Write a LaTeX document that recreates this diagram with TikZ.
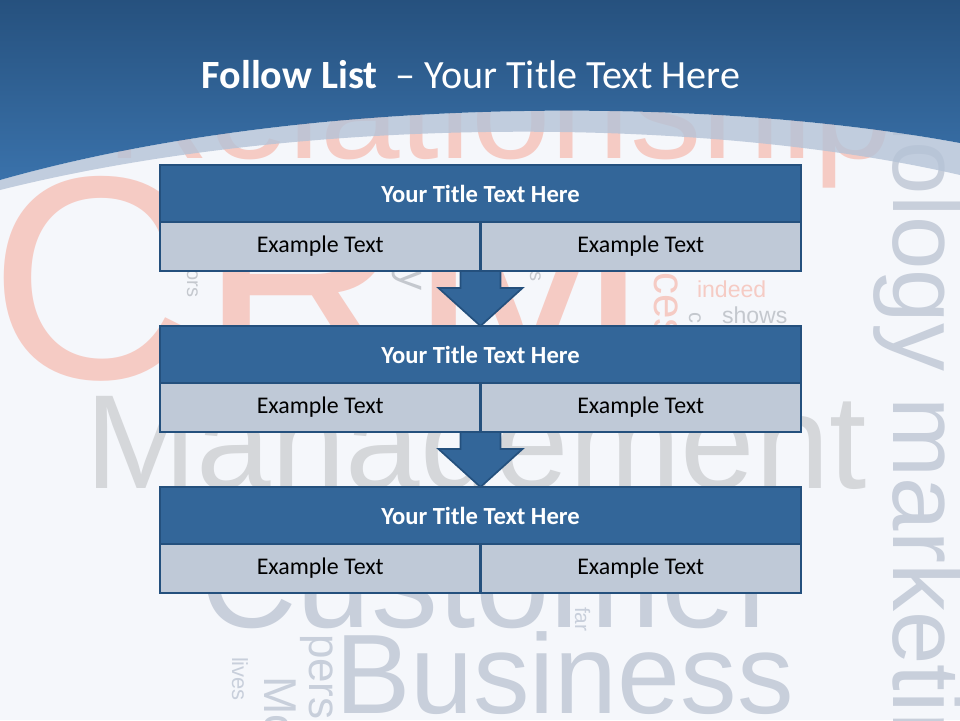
\documentclass[tikz,border=0pt]{standalone}
\usepackage{fontspec}
\setmainfont{Carlito}
\newfontfamily\cloudfont{Liberation Sans}
\usepackage{xcolor}
\usepackage{tikz}
\usetikzlibrary{positioning,calc}

\definecolor{hdrtop}{HTML}{26517E}
\definecolor{hdrbot}{HTML}{3A72AB}
\definecolor{bandc}{HTML}{B5C3D7}
\definecolor{paper}{HTML}{F5F7FB}
\definecolor{salmon}{HTML}{F5CBC4}
\definecolor{cloudgrey}{HTML}{D5D7DA}
\definecolor{smallgrey}{HTML}{C4C8CE}
\definecolor{cloudblue}{HTML}{C8CFDB}
\definecolor{titlefill}{HTML}{336699}
\definecolor{rowfill}{HTML}{BFC9D7}
\definecolor{edgec}{HTML}{24507D}

\begin{document}
\begin{tikzpicture}[
  x=0.25mm, y=-0.25mm,
  cloud/.style={inner sep=0pt, outer sep=0pt, text=#1},
  bar/.style={draw=edgec, line width=1.6pt, fill=titlefill, text=white, outer sep=0pt, inner sep=0pt,
    minimum width=160.25mm, minimum height=14.25mm, font=\fontsize{17.5}{20}\selectfont\bfseries},
  row/.style={draw=edgec, line width=1.6pt, fill=rowfill, text=black, outer sep=0pt, inner sep=0pt,
    minimum width=80.125mm, minimum height=12.25mm, font=\fontsize{17}{20}\selectfont},
  drop/.style={draw=edgec, line width=1.2pt, fill=titlefill, line join=miter}
]
  \useasboundingbox (0,0) rectangle (960,720);
  \clip (0,0) rectangle (960,720);
  \fill[paper] (0,0) rectangle (960,720);

  % word cloud behind everything
  \node[cloud=salmon, anchor=base west, font=\cloudfont\fontsize{206}{206}\selectfont] (crm) at (-10,378) {CRM};
  \node[cloud=salmon, anchor=base west, font=\cloudfont\fontsize{101.7}{101.7}\selectfont] (rel) at (106,158) {Relationship};
  \node[cloud=cloudgrey, anchor=base west, font=\cloudfont\fontsize{95.3}{95.3}\selectfont] (mgmt) at (85,488) {Management};
  \node[cloud=cloudblue, anchor=base west, font=\cloudfont\fontsize{95.3}{95.3}\selectfont] (cust) at (200,627) {Customer};
  \node[cloud=cloudblue, anchor=base west, font=\cloudfont\fontsize{80.4}{80.4}\selectfont] (biz) at (335,713) {Business};
  \node[cloud=cloudblue, anchor=base west, rotate=-90, font=\cloudfont\fontsize{68.3}{68.3}\selectfont] (tech) at (893,-93) {technology marketing};
  \node[cloud=salmon, anchor=base west, font=\cloudfont\fontsize{16.4}{16.4}\selectfont] (indeed) at (697,297) {indeed};
  \node[cloud=smallgrey, anchor=base west, font=\cloudfont\fontsize{16.4}{16.4}\selectfont] (shows) at (722,323) {shows};
  \node[cloud=salmon, anchor=base west, rotate=-90, font=\cloudfont\fontsize{31.3}{31.3}\selectfont] (ces) at (654,272) {ces};
  \node[cloud=smallgrey, anchor=base west, rotate=-90, font=\cloudfont\fontsize{15.6}{15.6}\selectfont] (cc) at (689,312) {c};
  \node[cloud=smallgrey, anchor=base east, rotate=-90, font=\cloudfont\fontsize{14.2}{14.2}\selectfont] (ors) at (187,297) {ors};
  \node[cloud=smallgrey, anchor=base east, rotate=-90, font=\cloudfont\fontsize{28.5}{28.5}\selectfont] (yy) at (400,291) {y};
  \node[cloud=smallgrey, anchor=base east, rotate=-90, font=\cloudfont\fontsize{14.2}{14.2}\selectfont] (ss) at (530,281) {s};
  \node[cloud=cloudblue, anchor=base west, rotate=-90, font=\cloudfont\fontsize{14.9}{14.9}\selectfont] (far) at (575,607) {far};
  \node[cloud=cloudblue, anchor=base west, rotate=-90, font=\cloudfont\fontsize{31.3}{31.3}\selectfont] (pers) at (309,634) {pers};
  \node[cloud=cloudblue, anchor=base west, rotate=-90, font=\cloudfont\fontsize{32.7}{32.7}\selectfont] (mo) at (264,676) {Mo};
  \node[cloud=cloudblue, anchor=base west, rotate=-90, font=\cloudfont\fontsize{15.6}{15.6}\selectfont] (lives) at (232,657) {lives};

  % header band
  \fill[bandc, opacity=0.8] (0,180) .. controls (300,95) and (700,95) .. (960,143)
    -- (960,175) .. controls (700,115) and (300,115) .. (0,190) -- cycle;
  \shade[top color=hdrtop, bottom color=hdrbot] (0,0) -- (960,0) -- (960,143)
    .. controls (700,95) and (300,95) .. (0,180) -- cycle;
  \node[text=white, anchor=base, font=\fontsize{28.5}{34}\selectfont] (head) at (471,88)
    {\textbf{Follow List}\ \ -- Your Title Text Here};

  % list
  \node[bar] (t1) at (480.5,193.5) {Your Title Text Here};
  \node[row, below right=0pt and 0pt of t1.south west] (l1) {Example Text};
  \node[row, below left=0pt and 0pt of t1.south east] (r1) {Example Text};

  \node[bar] (t2) at (480.5,354.5) {Your Title Text Here};
  \node[row, below right=0pt and 0pt of t2.south west] (l2) {Example Text};
  \node[row, below left=0pt and 0pt of t2.south east] (r2) {Example Text};

  \node[bar] (t3) at (480.5,515.5) {Your Title Text Here};
  \node[row, below right=0pt and 0pt of t3.south west] (l3) {Example Text};
  \node[row, below left=0pt and 0pt of t3.south east] (r3) {Example Text};

  \foreach \a/\b in {1/2, 2/3} {
    \filldraw[drop] (t\b.north) -- ($(t\b.north)+(-42,-38)$) -- ($(t\b.north)+(-20,-38)$)
      -- ($(l\a.south east)+(-20,0)$) -- ($(l\a.south east)+(20,0)$)
      -- ($(t\b.north)+(20,-38)$) -- ($(t\b.north)+(42,-38)$) -- cycle;
  }
\end{tikzpicture}
\end{document}
